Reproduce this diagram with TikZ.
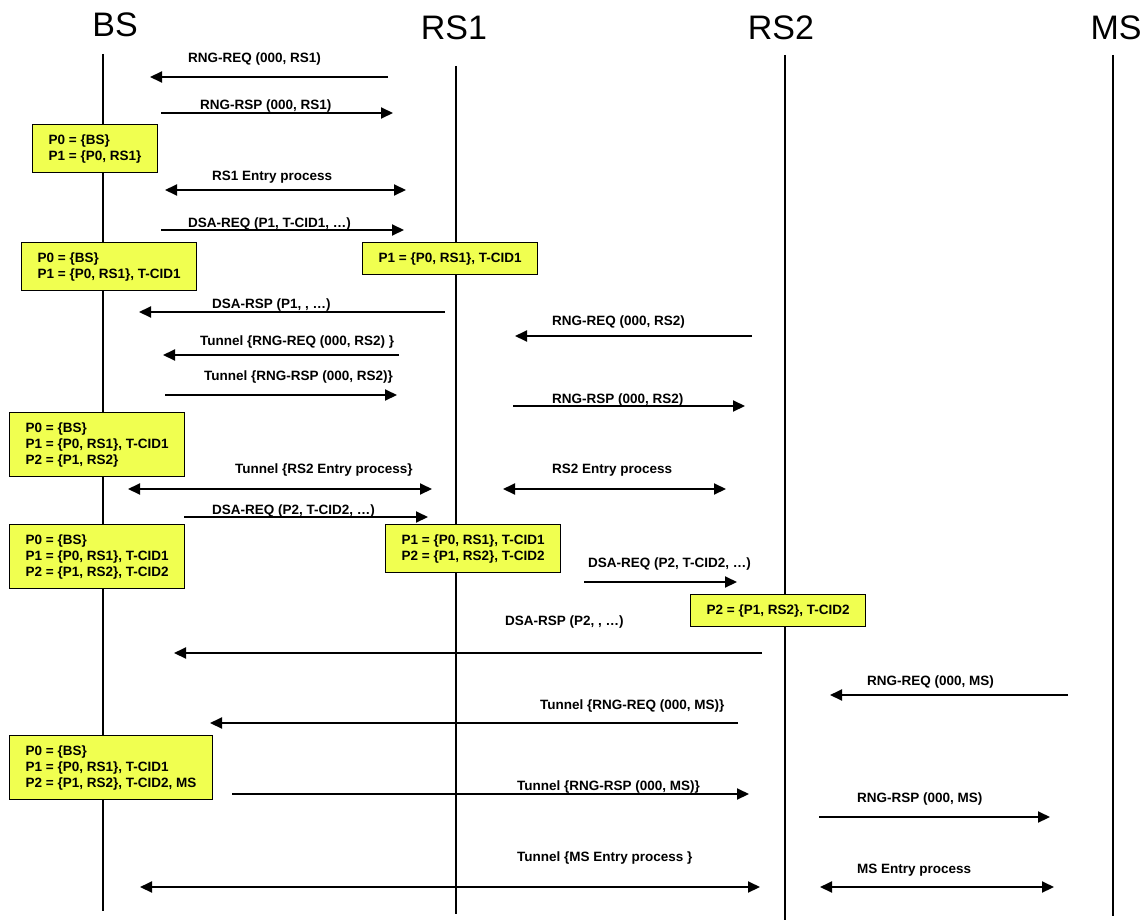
\documentclass[tikz,border=0pt]{standalone}
\usepackage{fontspec}
\setmainfont{Liberation Sans}
\usepackage{tikz}
\usetikzlibrary{arrows.meta, positioning}
\definecolor{boxyellow}{RGB}{240,255,80}
\tikzset{>={Triangle[length=12pt,width=11pt]}}
\tikzset{
  head/.style={anchor=base, inner sep=0pt, font=\fontsize{34}{40}\selectfont},
  life/.style={line width=1.5pt},
  msg/.style={->, line width=2pt},
  both/.style={<->, line width=2pt},
  lbl/.style={anchor=base west, inner sep=0pt, font=\bfseries\fontsize{13.5}{16}\selectfont},
  statebox/.style={draw, fill=boxyellow, line width=1.3pt, anchor=north west, align=left,
    inner xsep=16pt, inner ysep=9.8pt, font=\bfseries\fontsize{13.5}{16}\selectfont}
}

\begin{document}
\begin{tikzpicture}[x=1pt,y=-1pt]
    \useasboundingbox (0,0) rectangle (1147,920);
    % entities
    \node[head] (bs) at (115,37) {BS};
    \node[head] (rs1) at (454,40) {RS1};
    \node[head] (rs2) at (781,40) {RS2};
    \node[head] (ms) at (1116,40) {MS};
    \coordinate (bs-top) at (103,54);   \coordinate (bs-bot) at (103,911);
    \coordinate (rs1-top) at (456,66);  \coordinate (rs1-bot) at (456,914);
    \coordinate (rs2-top) at (785,55);  \coordinate (rs2-bot) at (785,920);
    \coordinate (ms-top) at (1113,55);  \coordinate (ms-bot) at (1113,916);
    \draw[life] (bs-top) -- (bs-bot);
    \draw[life] (rs1-top) -- (rs1-bot);
    \draw[life] (rs2-top) -- (rs2-bot);
    \draw[life] (ms-top) -- (ms-bot);

    % path tables
    \node[statebox] (tab1) at (32,124) {P0 = \{BS\}\\P1 = \{P0, RS1\}};
    \node[statebox] (tab2) at (21,242) {P0 = \{BS\}\\P1 = \{P0, RS1\}, T-CID1};
    \node[statebox] (tab3) at (362,242) {P1 = \{P0, RS1\}, T-CID1};
    \node[statebox] (tab4) at (9,412) {P0 = \{BS\}\\P1 = \{P0, RS1\}, T-CID1\\P2 = \{P1, RS2\}};
    \node[statebox] (tab5) at (9,524) {P0 = \{BS\}\\P1 = \{P0, RS1\}, T-CID1\\P2 = \{P1, RS2\}, T-CID2};
    \node[statebox] (tab6) at (385,524) {P1 = \{P0, RS1\}, T-CID1\\P2 = \{P1, RS2\}, T-CID2};
    \node[statebox] (tab7) at (690,594) {P2 = \{P1, RS2\}, T-CID2};
    \node[statebox] (tab8) at (9,735) {P0 = \{BS\}\\P1 = \{P0, RS1\}, T-CID1\\P2 = \{P1, RS2\}, T-CID2, MS};

    % RS1 entry
    \coordinate (m1a) at (388,77);  \coordinate (m1b) at (150,77);
    \draw[msg] (m1a) -- (m1b);
    \node[lbl] (m1l) at (188,63) {RNG-REQ (000, RS1)};
    \coordinate (m2a) at (161,113); \coordinate (m2b) at (393,113);
    \draw[msg] (m2a) -- (m2b);
    \node[lbl] (m2l) at (200,110) {RNG-RSP (000, RS1)};
    \coordinate (m3a) at (165,190); \coordinate (m3b) at (406,190);
    \draw[both] (m3a) -- (m3b);
    \node[lbl] (m3l) at (212,180) {RS1 Entry process};
    \coordinate (m4a) at (161,230); \coordinate (m4b) at (404,230);
    \draw[msg] (m4a) -- (m4b);
    \node[lbl] (m4l) at (188,227) {DSA-REQ (P1, T-CID1, …)};
    \coordinate (m5a) at (445,312); \coordinate (m5b) at (139,312);
    \draw[msg] (m5a) -- (m5b);
    \node[lbl] (m5l) at (212,308) {DSA-RSP (P1, , …)};

    % RS2 entry
    \coordinate (m6a) at (752,336); \coordinate (m6b) at (515,336);
    \draw[msg] (m6a) -- (m6b);
    \node[lbl] (m6l) at (552,325) {RNG-REQ (000, RS2)};
    \coordinate (m7a) at (399,355); \coordinate (m7b) at (163,355);
    \draw[msg] (m7a) -- (m7b);
    \node[lbl] (m7l) at (200,345) {Tunnel \{RNG-REQ (000, RS2) \}};
    \coordinate (m8a) at (165,395); \coordinate (m8b) at (397,395);
    \draw[msg] (m8a) -- (m8b);
    \node[lbl] (m8l) at (204,380) {Tunnel \{RNG-RSP (000, RS2)\}};
    \coordinate (m9a) at (513,406); \coordinate (m9b) at (745,406);
    \draw[msg] (m9a) -- (m9b);
    \node[lbl] (m9l) at (552,403) {RNG-RSP (000, RS2)};
    \coordinate (m10a) at (128,489); \coordinate (m10b) at (432,489);
    \draw[both] (m10a) -- (m10b);
    \node[lbl] (m10l) at (235,473) {Tunnel \{RS2 Entry process\}};
    \coordinate (m11a) at (503,489); \coordinate (m11b) at (726,489);
    \draw[both] (m11a) -- (m11b);
    \node[lbl] (m11l) at (552,473) {RS2 Entry process};
    \coordinate (m12a) at (184,517); \coordinate (m12b) at (428,517);
    \draw[msg] (m12a) -- (m12b);
    \node[lbl] (m12l) at (212,514) {DSA-REQ (P2, T-CID2, …)};
    \coordinate (m13a) at (584,582); \coordinate (m13b) at (737,582);
    \draw[msg] (m13a) -- (m13b);
    \node[lbl] (m13l) at (588,567) {DSA-REQ (P2, T-CID2, …)};
    \coordinate (m14a) at (762,653); \coordinate (m14b) at (174,653);
    \draw[msg] (m14a) -- (m14b);
    \node[lbl] (m14l) at (505,625) {DSA-RSP (P2, , …)};

    % MS entry
    \coordinate (m15a) at (1068,695); \coordinate (m15b) at (830,695);
    \draw[msg] (m15a) -- (m15b);
    \node[lbl] (m15l) at (867,685) {RNG-REQ (000, MS)};
    \coordinate (m16a) at (738,723); \coordinate (m16b) at (210,723);
    \draw[msg] (m16a) -- (m16b);
    \node[lbl] (m16l) at (540,709) {Tunnel \{RNG-REQ (000, MS)\}};
    \coordinate (m17a) at (232,794); \coordinate (m17b) at (749,794);
    \draw[msg] (m17a) -- (m17b);
    \node[lbl] (m17l) at (517,790) {Tunnel \{RNG-RSP (000, MS)\}};
    \coordinate (m18a) at (819,817); \coordinate (m18b) at (1050,817);
    \draw[msg] (m18a) -- (m18b);
    \node[lbl] (m18l) at (857,802) {RNG-RSP (000, MS)};
    \coordinate (m19a) at (140,887); \coordinate (m19b) at (760,887);
    \draw[both] (m19a) -- (m19b);
    \node[lbl] (m19l) at (517,861) {Tunnel \{MS Entry process \}};
    \coordinate (m20a) at (820,887); \coordinate (m20b) at (1054,887);
    \draw[both] (m20a) -- (m20b);
    \node[lbl] (m20l) at (857,873) {MS Entry process};
\end{tikzpicture}
\end{document}
